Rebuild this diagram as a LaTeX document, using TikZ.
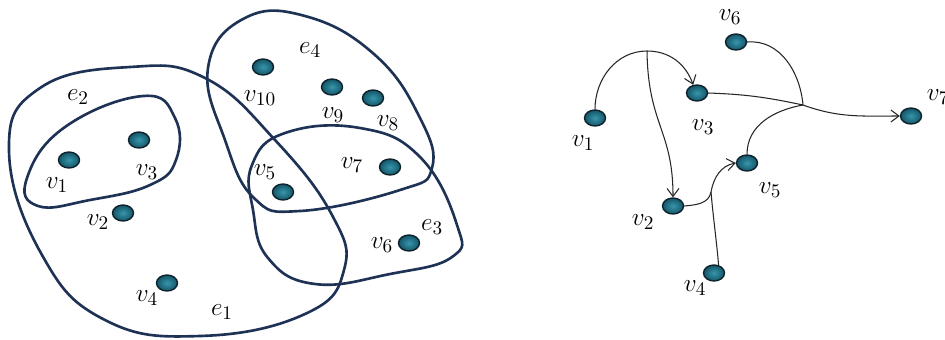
\documentclass[tikz,border=0pt]{standalone}
\usepackage{amsmath,amssymb}
\usetikzlibrary{arrows.meta, calc, positioning, shapes.geometric}
\definecolor{hyperblue}{RGB}{30, 50, 85}
\definecolor{dotlite}{RGB}{55, 150, 170}
\definecolor{dotdeep}{RGB}{20, 85, 105}
\definecolor{dotrim}{RGB}{15, 35, 45}

\tikzset{
  vdot/.style={ellipse, minimum width=0.42cm, minimum height=0.32cm,
    inner sep=0pt, draw=dotrim, line width=0.8pt,
    inner color=dotlite, outer color=dotdeep},
  vlab/.style={inner sep=0pt, font=\fontsize{15}{18}\selectfont},
  hedge/.style={hyperblue, line width=1.5pt},
  flow/.style={black!85, line width=0.6pt},
  flowtip/.style={flow, -{Straight Barb[length=1.6mm, width=2.4mm]}}
}

\begin{document}
\begin{tikzpicture}[x=0.02cm, y=-0.02cm]
\useasboundingbox (0,0) rectangle (945,339);
% LEFT: hypergraph
\draw[hedge] plot[smooth cycle, tension=0.75] coordinates {
  (9,150) (40,88) (130,67) (205,78) (275,140) (332,215) (344,270)
  (305,314) (200,336) (105,320) (42,255)};
\draw[hedge] plot[smooth cycle, tension=0.75] coordinates {
  (27,178) (65,127) (143,96) (175,118) (176,160) (150,185)
  (90,200) (38,206)};
\draw[hedge] plot[smooth cycle, tension=0.75] coordinates {
  (252,165) (285,133) (360,128) (420,157) (457,225) (452,257)
  (390,274) (315,284) (268,258) (253,210)};
\draw[hedge] plot[smooth cycle, tension=0.75] coordinates {
  (208,68) (243,19) (305,16) (375,55) (420,118) (432,168)
  (400,190) (300,211) (254,198) (225,140)};
\foreach \n/\x/\y/\lx/\ly in {
  1/69/160/57/185, 2/123/213/98/222, 3/139/140/147/172,
  4/167/283/147/298, 5/283/192/265/172, 6/409/243/382/245,
  7/390/167/352/165, 8/373/98/388/123, 9/332/87/333/115,
  10/263/67/260/98}{
  \node[vdot] (l\n) at (\x,\y) {};
  \node[vlab] (l\n lab) at (\lx,\ly) {$v_{\n}$};
}
\node[vlab] (e1lab) at (222,312) {$e_1$};
\node[vlab] (e2lab) at (78,97) {$e_2$};
\node[vlab] (e3lab) at (432,227) {$e_3$};
\node[vlab] (e4lab) at (310,50) {$e_4$};
% RIGHT: directed hypergraph
\foreach \n/\x/\y/\lx/\ly in {
  1/595/118/583/143, 2/673/206/643/222, 3/697/93/703/127,
  4/714/273/695/288, 5/747/163/770/190, 6/736/42/730/17,
  7/911/116/938/97}{
  \node[vdot] (r\n) at (\x,\y) {};
  \node[vlab] (r\n lab) at (\lx,\ly) {$v_{\n}$};
}
\coordinate (j1) at (647,51);
\coordinate (j2) at (803,105);
\coordinate (j3) at (711,192);
\draw[flow] (r1.north) to[out=90, in=180] (j1);
\draw[flowtip] (j1) to[out=0, in=110] (r3.115);
\draw[flowtip] (j1) .. controls (648,125) and (673,130) .. (r2.north);
\draw[flow] (r3.east) to[out=-2, in=168] (j2);
\draw[flow] (r6.east) to[out=5, in=95] (j2);
\draw[flow] (r5.north) to[out=90, in=190] (j2);
\draw[flowtip] (j2) to[out=-20, in=180] (r7.west);
\draw[flowtip] (r2.east) to[out=5, in=-100] (j3)
  to[out=80, in=190] (r5.west);
\draw[flow] (r4.60) to[out=95, in=-85] (j3);
\end{tikzpicture}
\end{document}
